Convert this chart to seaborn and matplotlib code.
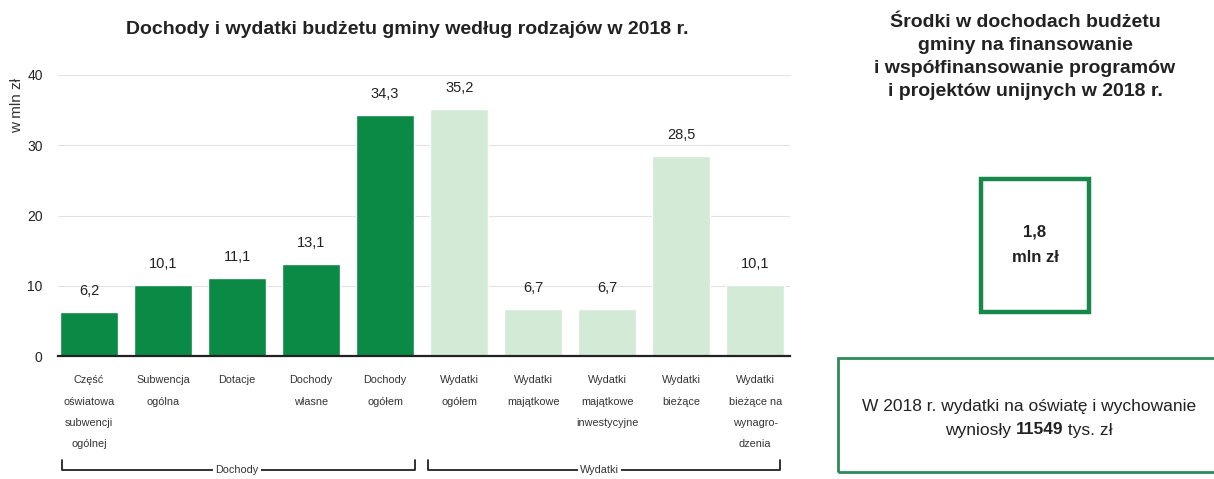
import matplotlib
matplotlib.use("Agg")
import matplotlib.pyplot as plt
import matplotlib.transforms as mtransforms
from matplotlib.patches import Rectangle
import seaborn as sns
import pandas as pd

categories = ["Część\noświatowa\nsubwencji\nogólnej", "Subwencja\nogólna", "Dotacje",
              "Dochody\nwłasne", "Dochody\nogółem", "Wydatki\nogółem", "Wydatki\nmajątkowe",
              "Wydatki\nmajątkowe\ninwestycyjne", "Wydatki\nbieżące",
              "Wydatki\nbieżące na\nwynagro-\ndzenia"]
values = [6.2, 10.1, 11.1, 13.1, 34.3, 35.2, 6.7, 6.7, 28.5, 10.1]
groups = ["Dochody"] * 5 + ["Wydatki"] * 5
value_labels = ["6,2", "10,1", "11,1", "13,1", "34,3", "35,2", "6,7", "6,7", "28,5", "10,1"]
yticks = [0, 10, 20, 30, 40]

DARK = "#0b8a45"
LIGHT = "#d3ead6"

sns.set_theme(style="white")
plt.rcParams['font.family'] = ['Liberation Sans', 'DejaVu Sans']

fig = plt.figure(figsize=(12.14, 4.79), dpi=100)
ax = fig.add_axes([58/1214, 1-356/479, 732/1214, 281/479])

df = pd.DataFrame({"cat": categories, "val": values, "grp": groups})
sns.barplot(data=df, x="cat", y="val", hue="grp", palette={"Dochody": DARK, "Wydatki": LIGHT},
            dodge=False, width=0.78, legend=False, ax=ax, saturation=1)

ax.set_ylim(0, 40)
ax.set_xlim(-0.42, 9.47)
ax.set_yticks(yticks)
ax.set_yticklabels([str(t) for t in yticks], fontsize=10, color="#222222")
ax.yaxis.grid(True, color="#e2e2e2", linewidth=0.8)
ax.set_axisbelow(True)
for s in ["top", "right", "left"]:
    ax.spines[s].set_visible(False)
ax.spines["bottom"].set_color("#222222")
ax.spines["bottom"].set_linewidth(1.6)
ax.spines["bottom"].set_zorder(5)
ax.set_xlabel("")
ax.set_ylabel("")
ax.tick_params(axis="y", length=0, pad=11)
ax.tick_params(axis="x", length=4, width=1.2, color="#222222", direction="out", pad=10)
ax.set_xticks(range(len(categories)))
ax.set_xticklabels(categories, fontsize=7.8, color="#333333", linespacing=2.4, va="top")

for i, (v, lab) in enumerate(zip(values, value_labels)):
    ax.text(i, v + 3.0, lab, ha="center", va="center", fontsize=10.5, color="#222222")

ax.text(-0.056, 0.89, "w mln zł", transform=ax.transAxes, rotation=90, ha="center",
        va="center", fontsize=11, color="#333333")

# Group brackets
tr = mtransforms.blended_transform_factory(ax.transData, ax.transAxes)
y_low, y_high = -0.405, -0.37
for (x0, x1, xc, name) in [(-0.37, 4.4, 2.0, "Dochody"), (4.58, 9.34, 6.9, "Wydatki")]:
    ax.plot([x0, x0, x1, x1], [y_high, y_low, y_low, y_high], color="#222222",
            linewidth=1.3, transform=tr, clip_on=False)
    ax.text(xc, y_low, name, transform=tr, ha="center", va="center", fontsize=7.8,
            color="#333333", bbox=dict(facecolor="white", edgecolor="none", pad=1.5),
            clip_on=False)

fig.text(407/1214, 1-30/479, "Dochody i wydatki budżetu gminy według rodzajów w 2018 r.",
         ha="center", va="center", fontsize=14, fontweight="bold", color="#222222")

# Right panel
fig.text(1025/1214, 1-57/479,
         "Środki w dochodach budżetu\ngminy na finansowanie\ni współfinansowanie programów\ni projektów unijnych w 2018 r.",
         ha="center", va="center", fontsize=14, fontweight="bold", color="#222222",
         linespacing=1.45)

fig.patches.append(Rectangle((981/1214, 1-312/479), 108/1214, 133/479, transform=fig.transFigure,
                             fill=False, edgecolor="#17874a", linewidth=3.2))
fig.text(1035/1214, 1-245/479, "1,8\nmln zł", ha="center", va="center", fontsize=12,
         fontweight="bold", color="#222222", linespacing=1.85)

fig.patches.append(Rectangle((838/1214, 1-472/479), 380/1214, 114/479, transform=fig.transFigure,
                             fill=False, edgecolor="#2e8b57", linewidth=2))
fig.text(1029/1214, 1-407/479, "W 2018 r. wydatki na oświatę i wychowanie",
         ha="center", va="center", fontsize=12.5, color="#222222")

# Second line with mixed weights
parts = [("wyniosły ", "normal"), ("11549", "bold"), (" tys. zł", "normal")]
texts = []
for s, w in parts:
    texts.append(fig.text(0, 1-430/479, s, ha="left", va="center", fontsize=12.5,
                          fontweight=w, color="#222222"))
fig.canvas.draw()
r = fig.canvas.get_renderer()
widths = [t.get_window_extent(r).width / fig.bbox.width for t in texts]
total = sum(widths)
x = 1029/1214 - total / 2
for t, wdt in zip(texts, widths):
    t.set_x(x)
    x += wdt

fig.savefig("out.png", dpi=100, facecolor="white")
